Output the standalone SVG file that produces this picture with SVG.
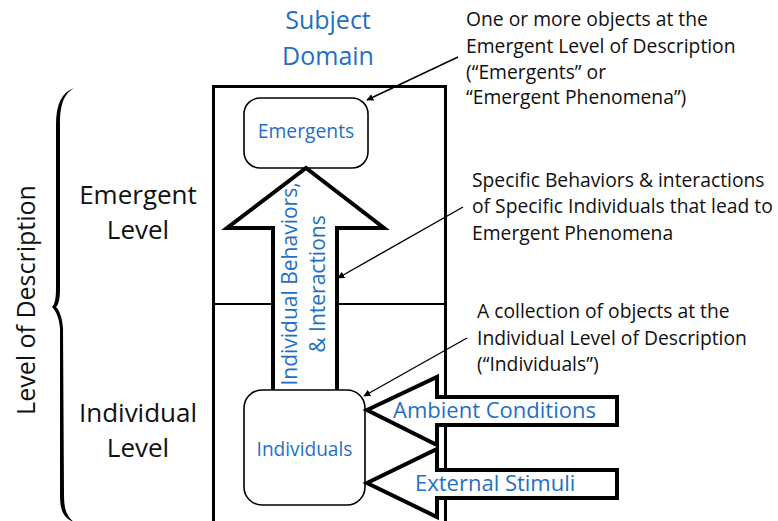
<svg xmlns="http://www.w3.org/2000/svg" width="778" height="521" viewBox="0 0 778 521">
  <style>
    .blue { fill: #1f6fc6; font-family: "Open Sans", "Noto Sans", sans-serif; }
    .black { fill: #111; font-family: "Open Sans", "Noto Sans", sans-serif; }
    .note { font-size: 19.3px; }
    .side { font-size: 26px; text-anchor: middle; }
    .box { fill: #fff; stroke: #000; stroke-width: 1.6; }
    .fat { fill: #fff; stroke: #000; stroke-width: 4; stroke-linejoin: miter; }
    .lead { stroke: #000; stroke-width: 1.4; fill: none; marker-end: url(#head); }
  </style>
  <defs>
    <marker id="head" viewBox="0 0 10 10" refX="9" refY="5" markerWidth="7" markerHeight="7" orient="auto" markerUnits="userSpaceOnUse">
      <path d="M0,0 L10,5 L0,10 Z" fill="#000"/>
    </marker>
  </defs>
  <rect width="778" height="521" fill="#fff"/>

  <!-- level brace and labels -->
  <g id="level-brace">
    <path d="M74,88 C62,92 56,104 56,124 L56,288 C56,298 55,304 52,307 C56,311 59,318 60,328 L60,495 C60,510 63,518 74,522 C67,517 64,510 64,495 L63,328 C62,316 59,310 56,307 C59,304 60,298 60,288 L60,124 C60,104 64,94 74,88 Z" fill="#000"/>
    <text class="black" font-size="25" text-anchor="middle" transform="translate(35,300) rotate(-90)">Level of Description</text>
  </g>
  <g id="emergent-level">
    <text class="black side" x="138" y="204">Emergent</text>
    <text class="black side" x="138" y="239">Level</text>
  </g>
  <g id="individual-level">
    <text class="black side" x="138" y="422">Individual</text>
    <text class="black side" x="138" y="457">Level</text>
  </g>

  <!-- subject domain frame -->
  <g id="subject-domain">
    <text class="blue" font-size="25" text-anchor="middle" x="328" y="29">Subject</text>
    <text class="blue" font-size="25" text-anchor="middle" x="328" y="65">Domain</text>
    <rect x="213.5" y="86.5" width="232" height="440" fill="none" stroke="#000" stroke-width="3"/>
    <line x1="213" y1="304" x2="446" y2="304" stroke="#000" stroke-width="2"/>
  </g>

  <g id="emergents">
    <rect class="box" x="244" y="98" width="124" height="70" rx="16"/>
    <text class="blue" font-size="19.3" text-anchor="middle" x="306" y="138">Emergents</text>
  </g>

  <g id="behaviors-arrow">
    <path class="fat" d="M273,390 L273,228 L227,228 L306,168 L384,228 L337,228 L337,390"/>
    <text class="blue" font-size="21" text-anchor="middle" transform="translate(297,284) rotate(-90)">Individual Behaviors,</text>
    <text class="blue" font-size="21" text-anchor="middle" transform="translate(325,284) rotate(-90)">&amp; Interactions</text>
  </g>

  <g id="individuals">
    <rect class="box" x="244" y="390" width="121" height="115" rx="18"/>
    <text class="blue" font-size="19.1" text-anchor="middle" x="304.5" y="456">Individuals</text>
  </g>

  <g id="ambient-conditions">
    <path class="fat" d="M617,397 L437,397 L437,377 L367,410 L437,445 L437,425 L617,425 Z" stroke-width="3.5"/>
    <text class="blue" font-size="22" x="393" y="418">Ambient Conditions</text>
  </g>

  <g id="external-stimuli">
    <path class="fat" d="M617,470 L437,470 L437,449 L367,483 L437,517 L437,498 L617,498 Z" stroke-width="3.5"/>
    <text class="blue" font-size="22" x="415" y="491">External Stimuli</text>
  </g>

  <!-- annotations -->
  <g id="note-emergents">
    <text class="black note" x="466" y="26">One or more objects at the</text>
    <text class="black note" x="466" y="53">Emergent Level of Description</text>
    <text class="black note" x="466" y="79">(“Emergents” or</text>
    <text class="black note" x="466" y="104">“Emergent Phenomena”)</text>
  </g>
  <g id="note-behaviors">
    <text class="black note" x="472" y="187">Specific Behaviors &amp; interactions</text>
    <text class="black note" x="472" y="213">of Specific Individuals that lead to</text>
    <text class="black note" x="472" y="240">Emergent Phenomena</text>
  </g>
  <g id="note-individuals">
    <text class="black note" x="477" y="318">A collection of objects at the</text>
    <text class="black note" x="477" y="345">Individual Level of Description</text>
    <text class="black note" x="477" y="371">(“Individuals”)</text>
  </g>

  <g id="connectors">
    <line class="lead" x1="458" y1="57" x2="367" y2="100"/>
    <line class="lead" x1="463" y1="207" x2="338" y2="278"/>
    <line class="lead" x1="467" y1="338" x2="364" y2="396"/>
  </g>
</svg>
